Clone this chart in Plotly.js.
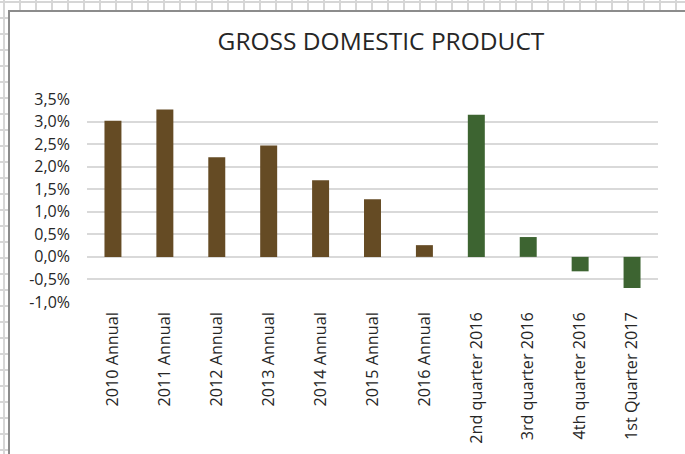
<!DOCTYPE html>
<html>
<head>
<meta charset="utf-8">
<script src="https://cdn.plot.ly/plotly-3.0.1.min.js"></script>
<style>
  html, body { margin: 0; padding: 0; }
  body {
    width: 685px; height: 454px; overflow: hidden; position: relative;
    background-color: #ffffff;
    background-image:
      linear-gradient(to right, #d6d6d6 2px, transparent 2px),
      linear-gradient(to bottom, #d6d6d6 2px, transparent 2px);
    background-size: 16px 16px;
    background-position: 3px 1px;
  }
  #frame {
    position: absolute; left: 8px; top: 10px; width: 720px; height: 480px;
    background: #ffffff; border: 2px solid #8c8c8c;
  }
  #chart { position: absolute; left: 0; top: 0; width: 685px; height: 454px; }
</style>
</head>
<body>
<div id="frame"></div>
<div id="chart"></div>
<script>
// Data (GDP growth, %)
const categories = [
  "2010 Annual", "2011 Annual", "2012 Annual", "2013 Annual", "2014 Annual",
  "2015 Annual", "2016 Annual", "2nd quarter 2016", "3rd quarter 2016",
  "4th quarter 2016", "1st Quarter 2017"
];
const gdpGrowth = [3.02, 3.27, 2.21, 2.47, 1.70, 1.28, 0.26, 3.15, 0.44, -0.32, -0.69];
const yTickValues = [-1.0, -0.5, 0.0, 0.5, 1.0, 1.5, 2.0, 2.5, 3.0, 3.5];
const yTickLabels = ["-1,0%", "-0,5%", "0,0%", "0,5%", "1,0%", "1,5%", "2,0%", "2,5%", "3,0%", "3,5%"];
const chartTitle = "GROSS DOMESTIC PRODUCT";

// Styling
const annualColor = "#654B24";
const quarterColor = "#3D6431";
const barColors = categories.map(c => /Annual/.test(c) ? annualColor : quarterColor);
const fontFamily = "'Open Sans', 'Liberation Sans', sans-serif";
const textColor = "#262626";

const trace = {
  type: "bar",
  x: categories,
  y: gdpGrowth,
  marker: { color: barColors, line: { width: 0 } },
  hoverinfo: "x+y"
};

const layout = {
  width: 685, height: 454,
  paper_bgcolor: "rgba(0,0,0,0)",
  plot_bgcolor: "rgba(0,0,0,0)",
  margin: { l: 87, r: 27, t: 99, b: 152, pad: 0 },
  separators: ",.",
  bargap: 0.673,
  showlegend: false,
  font: { family: fontFamily, color: textColor },
  title: {
    text: chartTitle,
    font: { family: fontFamily, size: 24.5, color: textColor },
    xref: "container", yref: "container",
    x: 381 / 685, xanchor: "center",
    y: 1 - 41 / 454, yanchor: "middle"
  },
  xaxis: {
    type: "category",
    tickangle: -90,
    tickfont: { family: fontFamily, size: 16.2, color: textColor },
    showgrid: false, showline: false, zeroline: false,
    ticks: "", ticklen: 0,
    ticklabelstandoff: 6
  },
  yaxis: {
    range: [-1.0, 3.5],
    tickmode: "array",
    tickvals: yTickValues,
    ticktext: yTickLabels,
    tickfont: { family: fontFamily, size: 16, color: textColor },
    showgrid: true, gridcolor: "#d9d9d9", gridwidth: 2,
    zeroline: true, zerolinecolor: "#d9d9d9", zerolinewidth: 2,
    showline: false, ticks: "", ticklen: 0,
    ticklabelstandoff: 16
  }
};

Plotly.newPlot("chart", [trace], layout, { displayModeBar: false, staticPlot: true });
</script>
</body>
</html>
